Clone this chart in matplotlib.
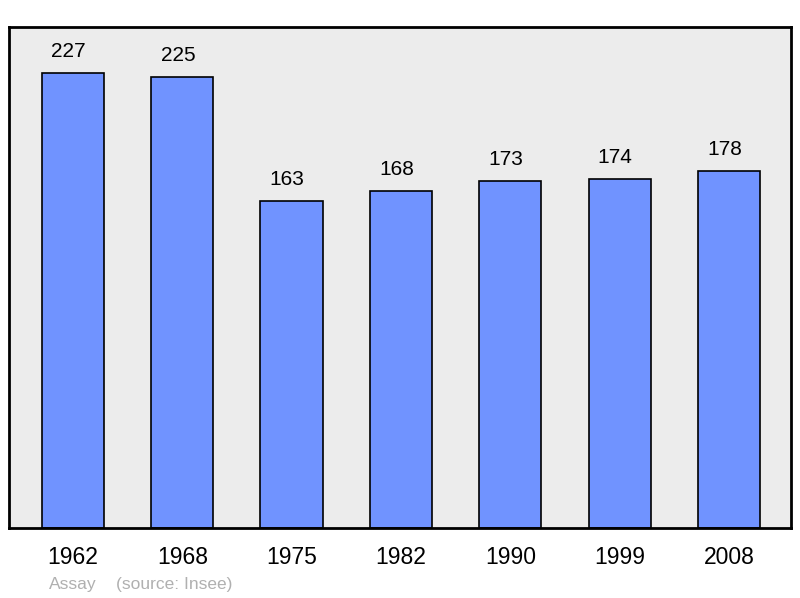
import matplotlib
matplotlib.use("Agg")
import matplotlib.pyplot as plt

years = ['1962', '1968', '1975', '1982', '1990', '1999', '2008']
population = [227, 225, 163, 168, 173, 174, 178]

plt.rcParams['font.family'] = ['Liberation Sans', 'DejaVu Sans']

fig = plt.figure(figsize=(8, 5.98), dpi=100)
ax = fig.add_axes([0.01125, 0.117, 0.9775, 0.838])
ax.set_facecolor('#ececec')

x = list(range(len(years)))
ax.bar(x, population, width=0.57, color='#7093ff', edgecolor='black', linewidth=1.2, zorder=2)
for xi, v in zip(x, population):
    ax.annotate(str(v), (xi, v), xytext=(-3.2, 15.8), textcoords='offset points',
                ha='center', va='center', fontsize=15)

ax.set_xlim(-0.585, 6.567)
ax.set_ylim(0, 250)
ax.set_yticks([])
ax.set_xticks(x)
ax.set_xticklabels(years, fontsize=16.5)
ax.tick_params(axis='x', length=0, pad=13)
for s in ax.spines.values():
    s.set_linewidth(2)

fig.text(49 / 800, 1 - 584 / 598, 'Assay', color='#b0b0b0', fontsize=12.5, va='center')
fig.text(116 / 800, 1 - 584 / 598, '(source: Insee)', color='#b0b0b0', fontsize=12.5, va='center')

fig.savefig('out.png', dpi=100)
